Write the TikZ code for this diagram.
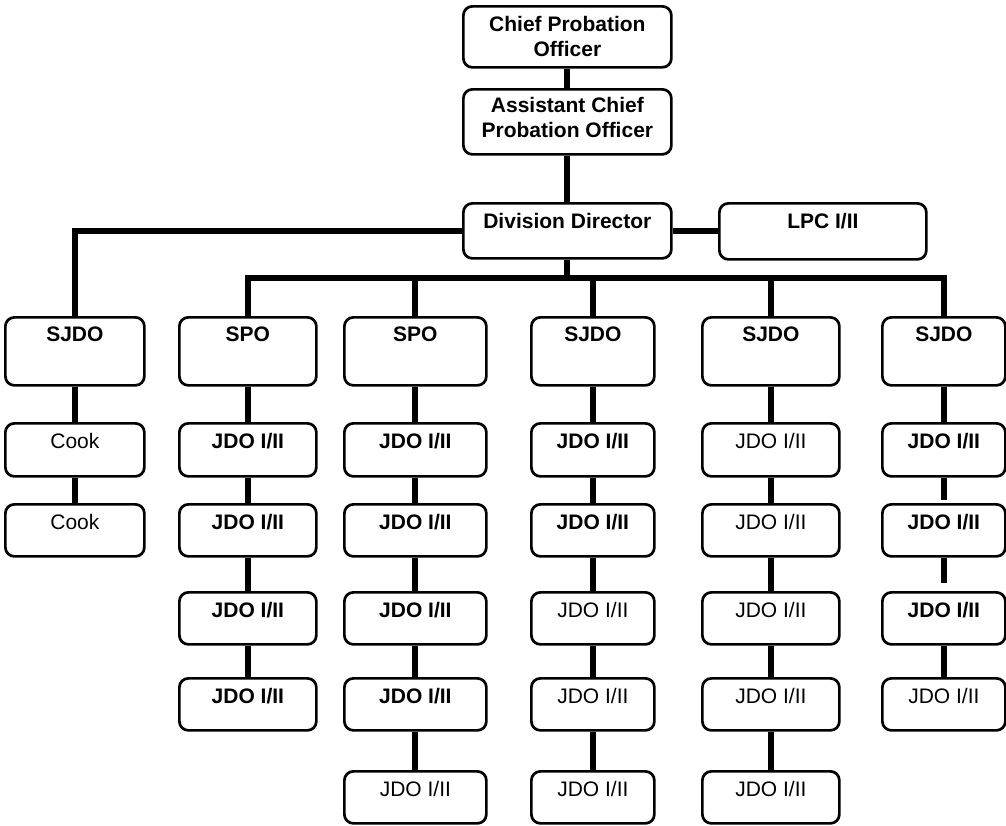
\documentclass[tikz,border=0pt]{standalone}
\usepackage{fontspec}
\setmainfont{Liberation Sans}
\begin{document}
\begin{tikzpicture}[x=1pt,y=-1pt,
  box/.style={draw=black, line width=2.7pt, rounded corners=9pt, fill=white,
    anchor=north west, inner sep=0pt},
  bx/.style 2 args={minimum width=#1pt, minimum height=#2pt},
  lbl/.style={anchor=north, inner sep=0pt, yshift=-11pt, font=\fontsize{21}{25}\selectfont},
  lb/.style={label={[lbl, font=\fontsize{21}{25}\selectfont\bfseries]north:#1}},
  lr/.style={label={[lbl]north:#1}},
  two/.style={align=center, font=\fontsize{21}{25}\selectfont\bfseries},
  conn/.style={line width=6pt, line join=miter}]
\useasboundingbox (0,0) rectangle (1006,825);

% management chain
\node[box, bx={208}{61}, two] (chief) at (462,5) {Chief Probation\\Officer};
\node[box, bx={208}{65}, two, text depth=8pt] (asst) at (462,88) {Assistant Chief\\Probation Officer};
\node[box, bx={208}{55}, lb={Division Director}] (dd) at (462,202) {};
\node[box, bx={207}{56}, lb={LPC I/II}] (lpc) at (718,202) {};

% column 1
\node[box, bx={139}{68}, lb={SJDO}] (c1r0) at (4,316) {};
\node[box, bx={139}{53}, lr={Cook}] (c1r1) at (4,422) {};
\node[box, bx={139}{52}, lr={Cook}] (c1r2) at (4,503) {};

% column 2
\node[box, bx={137}{68}, lb={SPO}] (c2r0) at (178,316) {};
\node[box, bx={137}{53}, lb={JDO I/II}] (c2r1) at (178,422) {};
\node[box, bx={137}{52}, lb={JDO I/II}] (c2r2) at (178,503) {};
\node[box, bx={137}{52}, lb={JDO I/II}] (c2r3) at (178,591) {};
\node[box, bx={137}{52}, lb={JDO I/II}] (c2r4) at (178,677) {};

% column 3
\node[box, bx={142}{68}, lb={SPO}] (c3r0) at (343,316) {};
\node[box, bx={142}{53}, lb={JDO I/II}] (c3r1) at (343,422) {};
\node[box, bx={142}{52}, lb={JDO I/II}] (c3r2) at (343,503) {};
\node[box, bx={142}{52}, lb={JDO I/II}] (c3r3) at (343,591) {};
\node[box, bx={142}{52}, lb={JDO I/II}] (c3r4) at (343,677) {};
\node[box, bx={142}{52}, lr={JDO I/II}] (c3r5) at (343,770) {};

% column 4
\node[box, bx={123}{68}, lb={SJDO}] (c4r0) at (530,316) {};
\node[box, bx={123}{53}, lb={JDO I/II}] (c4r1) at (530,422) {};
\node[box, bx={123}{52}, lb={JDO I/II}] (c4r2) at (530,503) {};
\node[box, bx={123}{52}, lr={JDO I/II}] (c4r3) at (530,591) {};
\node[box, bx={123}{52}, lr={JDO I/II}] (c4r4) at (530,677) {};
\node[box, bx={123}{52}, lr={JDO I/II}] (c4r5) at (530,770) {};

% column 5
\node[box, bx={137}{68}, lb={SJDO}] (c5r0) at (701,316) {};
\node[box, bx={137}{53}, lr={JDO I/II}] (c5r1) at (701,422) {};
\node[box, bx={137}{52}, lr={JDO I/II}] (c5r2) at (701,503) {};
\node[box, bx={137}{52}, lr={JDO I/II}] (c5r3) at (701,591) {};
\node[box, bx={137}{52}, lr={JDO I/II}] (c5r4) at (701,677) {};
\node[box, bx={137}{52}, lr={JDO I/II}] (c5r5) at (701,770) {};

% column 6
\node[box, bx={123}{68}, lb={SJDO}] (c6r0) at (881,316) {};
\node[box, bx={123}{53}, lb={JDO I/II}] (c6r1) at (881,422) {};
\node[box, bx={123}{52}, lb={JDO I/II}] (c6r2) at (881,503) {};
\node[box, bx={123}{52}, lb={JDO I/II}] (c6r3) at (881,591) {};
\node[box, bx={123}{52}, lr={JDO I/II}] (c6r4) at (881,677) {};

% connectors: management chain and the branch bus
\coordinate (bus) at (567,278);
\draw[conn] (chief) -- (asst);
\draw[conn] (asst) -- (dd);
\draw[conn] (dd.east) -- (dd.east -| lpc.west);
\draw[conn] (dd.west) -| (c1r0.north);
\draw[conn] (dd.south) -- (dd.south |- bus);
\draw[conn] (c2r0.north) |- (c6r0.north |- bus) -- (c6r0.north);
\draw[conn] (c3r0.north) -- (c3r0.north |- bus);
\draw[conn] (c4r0.north) -- (c4r0.north |- bus);
\draw[conn] (c5r0.north) -- (c5r0.north |- bus);

% connectors down each column
\draw[conn] (c1r0) -- (c1r1) -- (c1r2);
\draw[conn] (c2r0) -- (c2r1) -- (c2r2) -- (c2r3) -- (c2r4);
\draw[conn] (c3r0) -- (c3r1) -- (c3r2) -- (c3r3) -- (c3r4) -- (c3r5);
\draw[conn] (c4r0) -- (c4r1) -- (c4r2) -- (c4r3) -- (c4r4) -- (c4r5);
\draw[conn] (c5r0) -- (c5r1) -- (c5r2) -- (c5r3) -- (c5r4) -- (c5r5);
\draw[conn] (c6r0) -- (c6r1);
\draw[conn, shorten >=3pt] (c6r1) -- (c6r2);
\draw[conn, shorten >=8pt] (c6r2) -- (c6r3);
\draw[conn] (c6r3) -- (c6r4);
\end{tikzpicture}
\end{document}
